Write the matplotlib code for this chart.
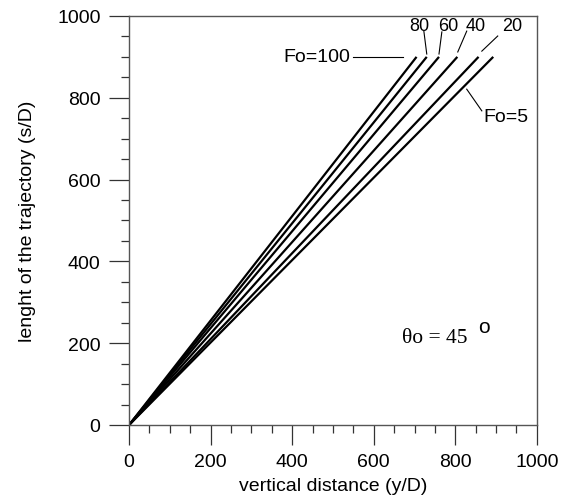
import numpy as np
import matplotlib.pyplot as plt
from matplotlib.ticker import MultipleLocator

plt.rcParams['font.family'] = ['Liberation Sans', 'DejaVu Sans']

# trajectory length s/D at the two ends of each curve, against vertical distance y/D
s_pts = [0, 900]
curves = {
    'Fo=100': [0, 705],
    '80': [0, 730],
    '60': [0, 760],
    '40': [0, 805],
    '20': [0, 857],
    'Fo=5': [0, 893],
}

# label text position, leader start, leader end (y/D, s/D)
labels = {
    'Fo=100': ((542, 900), (548, 900), (671, 900)),
    '80': ((711, 976), (723, 962), (730, 907)),
    '60': ((782, 976), (767, 961), (760, 907)),
    '40': ((850, 976), (828, 963), (806, 912)),
    '20': ((939, 976), (904, 951), (865, 914)),
    'Fo=5': ((868, 755), (828, 821), (865, 768)),
}

fig = plt.figure(figsize=(5.61, 5.02), dpi=100)
ax = fig.add_axes([0.230, 0.1514, 0.727, 0.8148])

for name, xs in curves.items():
    ax.plot(xs, s_pts, color='black', lw=1.6, solid_capstyle='butt')

for name, (txt, p0, p1) in labels.items():
    ax.plot([p0[0], p1[0]], [p0[1], p1[1]], color='black', lw=0.8)
    if name == 'Fo=100':
        ax.text(txt[0], txt[1], name, ha='right', va='center', fontsize=14)
    elif name == 'Fo=5':
        ax.text(txt[0], txt[1], name, ha='left', va='center', fontsize=14)
    else:
        ax.text(txt[0], txt[1], name, ha='center', va='center', fontsize=13)

ax.text(669, 215, 'θo = 45', family='Liberation Serif', fontsize=15.5,
        ha='left', va='center')
ax.text(856, 240, 'o', fontsize=15, ha='left', va='center')

ax.set_xlim(0, 1000)
ax.set_ylim(0, 1000)
ax.xaxis.set_major_locator(MultipleLocator(200))
ax.xaxis.set_minor_locator(MultipleLocator(50))
ax.yaxis.set_major_locator(MultipleLocator(200))
ax.yaxis.set_minor_locator(MultipleLocator(50))
ax.tick_params(which='major', direction='out', length=14.5, width=0.9,
               color='#333333', labelsize=14, pad=6)
ax.tick_params(which='minor', direction='out', length=6, width=0.9,
               color='#333333')
ax.tick_params(top=False, right=False)
for sp in ax.spines.values():
    sp.set_color('#555555')
    sp.set_linewidth(1.0)

ax.set_xlabel('vertical distance (y/D)', fontsize=14, labelpad=5)
ax.set_ylabel('lenght of the trajectory (s/D)', fontsize=14, labelpad=15)

fig.savefig('out.png', dpi=100)
